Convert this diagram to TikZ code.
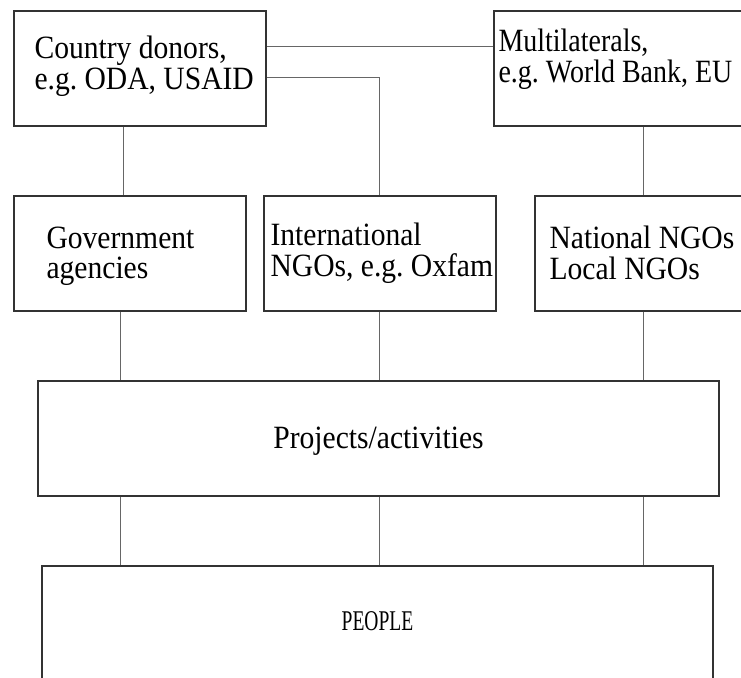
\documentclass[tikz,border=0pt]{standalone}
\usepackage{fontspec}
\setmainfont{Liberation Serif}[FakeStretch=0.91]
\usepackage{graphicx}
\usetikzlibrary{positioning}

\begin{document}
\begin{tikzpicture}[x=1pt,y=-1pt,
    box/.style={draw=black!80,line width=1.3pt,minimum height=115pt,inner sep=0pt},
    txt/.style={align=left,inner sep=0pt,font=\fontsize{32.5}{30.5}\selectfont},
    link/.style={draw=black!60,line width=0.9pt}]
  \useasboundingbox (0,0) rectangle (741,677);
  \clip (0,0) rectangle (741,677);

  % funders
  \node[box,minimum width=252pt] (donors) at (140,68.5) {};
  \node[box,minimum width=252pt] (multi) at (620,68.5) {};
  % channels
  \node[box,minimum width=232pt] (gov) at (130,253.5) {};
  \node[box,minimum width=232pt] (intl) at (380,253.5) {};
  \node[box,minimum width=232pt] (natl) at (651,253.5) {};
  % field level
  \node[box,minimum width=681pt] (proj) at (378.5,438.5) {};
  \node[box,minimum width=671pt] (people) at (377.5,623.5) {};

  \node[txt,right=21pt of donors.west,yshift=2.5pt] (donors-t) {Country donors,\\e.g.\ ODA, USAID};
  \node[txt,right=5pt of multi.west,yshift=9.5pt,
        font=\fontsize{32.5}{31.5}\selectfont\addfontfeature{FakeStretch=0.86}] (multi-t) {Multilaterals,\\e.g.\ World Bank, EU};
  \node[txt,right=33pt of gov.west,yshift=-2.5pt] (gov-t) {Government\\agencies};
  \node[txt,right=7pt of intl.west,yshift=0.5pt] (intl-t) {International\\NGOs, e.g.\ Oxfam};
  \node[txt,right=15pt of natl.west,yshift=0.5pt] (natl-t) {National NGOs\\Local NGOs};
  \node[txt,yshift=-3pt] (proj-t) at (proj) {Projects/activities};
  \node[txt,yshift=2pt] (people-t) at (people) {\scalebox{0.66}[0.88]{PEOPLE}};

  % funding lines
  \draw[link] ([yshift=22.5pt]donors.east) -- ([yshift=22.5pt]donors.east -| multi.west);
  \draw[link] ([yshift=-8.5pt]donors.east) -| ([xshift=-1pt]intl.north);
  \draw[link] ([xshift=-17pt]donors.south) -- ([xshift=-17pt]donors.south |- gov.north);
  \draw[link] ([xshift=23pt]multi.south) -- ([xshift=23pt]multi.south |- natl.north);

  \coordinate (c1) at (120,0);
  \coordinate (c2) at (379,0);
  \coordinate (c3) at (643,0);
  \foreach \n/\c in {gov/c1,intl/c2,natl/c3}{
    \draw[link] (\n.south -| \c) -- (proj.north -| \c);
    \draw[link] (proj.south -| \c) -- (people.north -| \c);
  }
\end{tikzpicture}
\end{document}
